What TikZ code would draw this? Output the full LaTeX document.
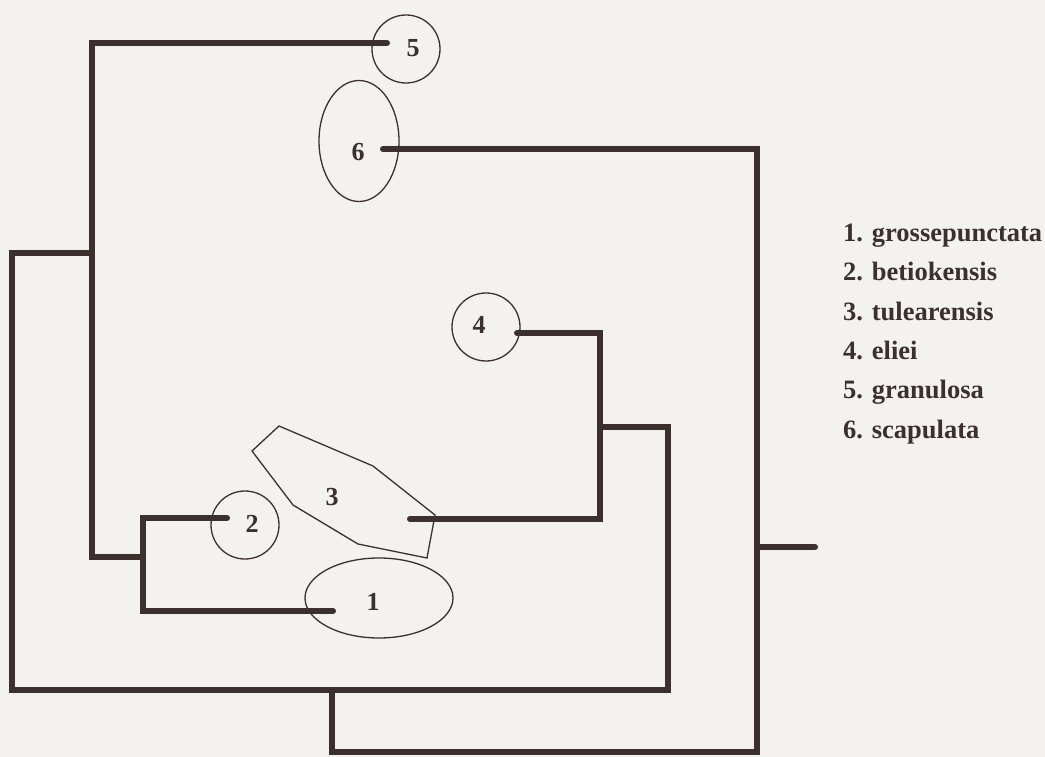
\documentclass[tikz,border=0pt]{standalone}
\usepackage{fontspec}
\setmainfont{Liberation Serif}
\usetikzlibrary{shapes.geometric}
\definecolor{ink}{HTML}{3B302E}
\definecolor{paper}{HTML}{F4F2EE}
\begin{document}
\begin{tikzpicture}[x=1pt,y=-1pt,
  branch/.style={line width=6pt, draw=ink, line cap=round, line join=miter},
  taxon/.style={draw=ink, line width=1.3pt, inner sep=0pt},
  num/.style={font=\fontsize{26}{26}\selectfont\bfseries, text=ink, inner sep=0pt},
  leg/.style={font=\fontsize{26.5}{30}\selectfont\bfseries, text=ink, anchor=base west, inner sep=0pt}]
\fill[paper] (0,0) rectangle (1045,757);
\useasboundingbox (0,0) rectangle (1045,757);

% taxon outlines
\node[taxon, circle, minimum size=68pt] (c5) at (406,49) {};
\node[taxon, ellipse, minimum width=80pt, minimum height=121pt] (c6) at (359,141) {};
\node[taxon, circle, minimum size=68pt] (c4) at (486,327) {};
\node[taxon, circle, minimum size=68pt] (c2) at (245,525) {};
\node[taxon, ellipse, minimum width=148pt, minimum height=80pt] (c1) at (379,598) {};
\draw[taxon] (279,426) -- (373,466) -- (435,515) -- (427,558) -- (358,544) -- (293,505) -- (252,451) -- cycle;

% labels
\node[num] (n5) at (413,48) {5};
\node[num] (n6) at (358,152) {6};
\node[num] (n4) at (479,325) {4};
\node[num] (n3) at (332,497) {3};
\node[num] (n2) at (252,524) {2};
\node[num] (n1) at (373,602) {1};

% attach points and junctions
\coordinate (p5) at (387,43);
\coordinate (p6) at (383,149);
\coordinate (p4) at (517,333);
\coordinate (p3) at (410,519);
\coordinate (p2) at (227,518);
\coordinate (p1) at (333,611);
\coordinate (j12) at (143,557);
\coordinate (j125) at (92,253);
\coordinate (j34) at (668,427);
\coordinate (j1234) at (332,690);
\coordinate (root) at (757,547);
\coordinate (rootend) at (815,547);

% branches
\draw[branch] (p2) -- (143,518) -- (143,611) -- (p1);
\draw[branch] (j12) -- (92,557) -- (92,43) -- (p5);
\draw[branch] (j125) -- (12,253) -- (12,690) -- (668,690) -- (j34) -- (600,427);
\draw[branch] (p4) -- (600,333) -- (600,519) -- (p3);
\draw[branch] (j1234) -- (332,752) -- (757,752) -- (757,149) -- (p6);
\draw[branch] (root) -- (rootend);

% legend
\node[leg] (l1) at (843,241) {1. grossepunctata};
\node[leg] (l2) at (843,280.5) {2. betiokensis};
\node[leg] (l3) at (843,320) {3. tulearensis};
\node[leg] (l4) at (843,359) {4. eliei};
\node[leg] (l5) at (843,398.5) {5. granulosa};
\node[leg] (l6) at (843,438) {6. scapulata};
\end{tikzpicture}
\end{document}
